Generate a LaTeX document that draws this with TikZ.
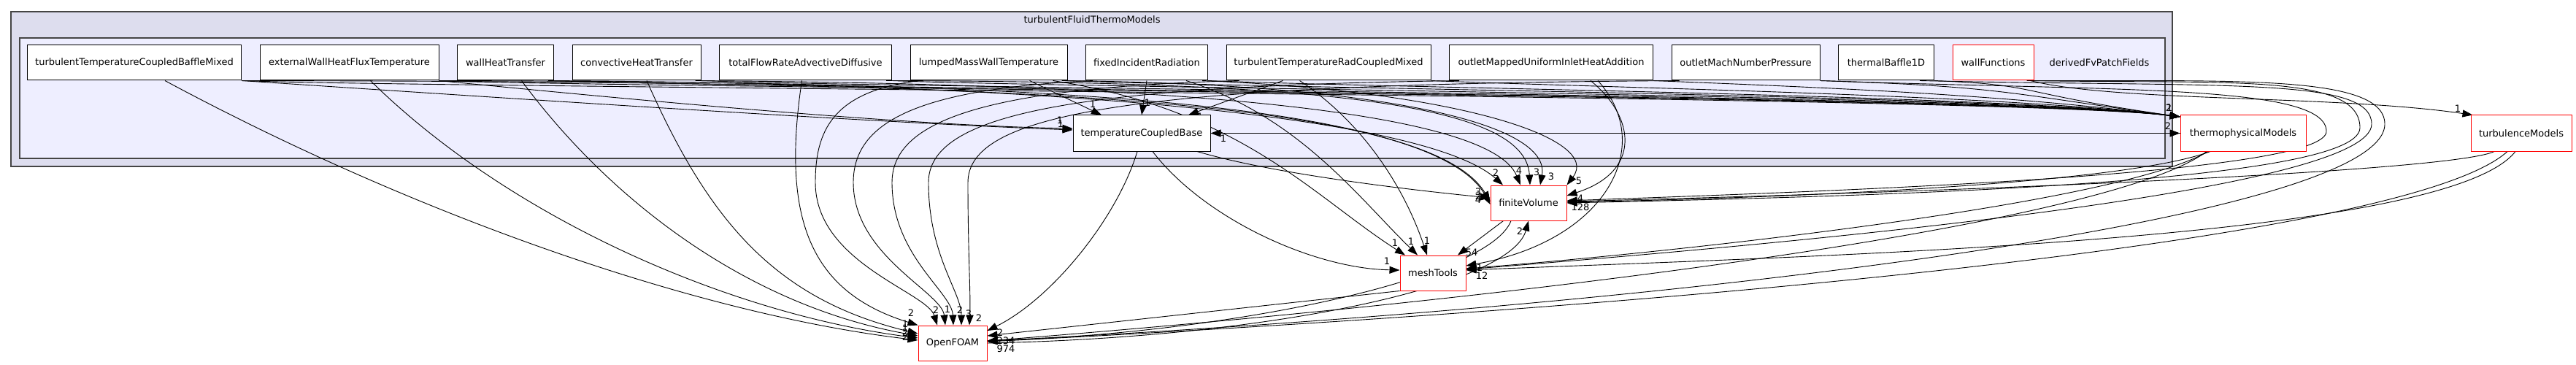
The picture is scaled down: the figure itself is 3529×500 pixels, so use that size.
\documentclass[tikz,border=0pt]{standalone}
\usepackage{fontspec}
\setmainfont{DejaVu Sans}
\usepackage{tikz}
\usetikzlibrary{arrows.meta, positioning}
\pgfdeclarelayer{bg}
\pgfdeclarelayer{wires}
\pgfsetlayers{bg,wires,main}

\definecolor{outerfill}{HTML}{DDDDEE}
\definecolor{innerfill}{HTML}{EEEEFF}
\definecolor{clusterline}{HTML}{444444}

\tikzset{
  dirbox/.style={draw=black, fill=white, line width=1pt, minimum height=48pt, inner sep=0pt, font=\fontsize{13}{15}\selectfont},
  reddir/.style={dirbox, draw=red},
  dep/.style={-{Triangle[length=14pt,width=10pt]}, line width=0.9pt},
  lbl/.style={font=\fontsize{13}{15}\selectfont, inner sep=0pt},
  cluster/.style={draw=clusterline, line width=2pt}
}

\begin{document}
\begin{tikzpicture}[x=1pt, y=-1pt, node distance=24.5pt]
\useasboundingbox (0,0) rectangle (3529,500);

\begin{pgfonlayer}{bg}
\draw[cluster, fill=outerfill] (15,16) rectangle (2976,228);
\draw[cluster, fill=innerfill] (27,52) rectangle (2966,217);
\end{pgfonlayer}
\node[lbl] (outerlbl) at (1496,27) {turbulentFluidThermoModels};
\node[lbl] (innerlbl) at (2876,86) {derivedFvPatchFields};

% directories in derivedFvPatchFields
\node[dirbox, minimum width=293pt, anchor=west] (tTCBM) at (37,86) {turbulentTemperatureCoupledBaffleMixed};
\node[dirbox, minimum width=245pt] (eWHFT) [right=of tTCBM] {externalWallHeatFluxTemperature};
\node[dirbox, minimum width=132pt] (wHT) [right=of eWHFT] {wallHeatTransfer};
\node[dirbox, minimum width=176pt] (cHT) [right=of wHT] {convectiveHeatTransfer};
\node[dirbox, minimum width=236pt] (tFRAD) [right=of cHT] {totalFlowRateAdvectiveDiffusive};
\node[dirbox, minimum width=215pt] (lMWT) [right=of tFRAD] {lumpedMassWallTemperature};
\node[dirbox, minimum width=167pt] (fIR) [right=of lMWT] {fixedIncidentRadiation};
\node[dirbox, minimum width=280pt] (tTRCM) [right=of fIR] {turbulentTemperatureRadCoupledMixed};
\node[dirbox, minimum width=279pt] (oMUIHA) [right=of tTRCM] {outletMappedUniformInletHeatAddition};
\node[dirbox, minimum width=203pt] (oMNP) [right=of oMUIHA] {outletMachNumberPressure};
\node[dirbox, minimum width=131pt] (tB1D) [right=of oMNP] {thermalBaffle1D};
\node[reddir, minimum width=111pt] (wallF) [right=of tB1D] {wallFunctions};
\node[dirbox, minimum width=188pt, minimum height=49pt] (tCB) at (1564,182.5) {temperatureCoupledBase};

% other directories
\node[reddir, minimum width=172pt, minimum height=49pt] (thermo) at (3073,182.5) {thermophysicalModels};
\node[reddir, minimum width=138pt, minimum height=49pt] (turb) at (3454,182.5) {turbulenceModels};
\node[reddir, minimum width=104pt] (fV) at (2094,278) {finiteVolume};
\node[reddir, minimum width=90pt] (mT) at (1963,374) {meshTools};
\node[reddir, minimum width=94pt] (OF) at (1305,470) {OpenFOAM};

\begin{pgfonlayer}{wires}
% to temperatureCoupledBase
\draw[dep] (tTCBM.south east) .. controls (700,135) and (1200,168) .. ([yshift=4.5pt]tCB.west) node[lbl] at (1453,170) {1};
\draw[dep] (eWHFT.south east) .. controls (900,140) and (1250,172) .. ([yshift=6.5pt]tCB.west) node[lbl] at (1452,165) {1};
\draw[dep] ([xshift=164pt]lMWT.south west) -- ([xshift=-55pt]tCB.north) node[lbl] at (1497,143) {1};
\draw[dep] (fIR.south) -- (tCB.north) node[lbl] at (1572,141) {1};
\draw[dep] ([xshift=78pt]tTRCM.south west) -- ([xshift=64pt]tCB.north) node[lbl] at (1644,160) {1};
\draw[dep] (thermo.west) -- (tCB.east) node[lbl] at (1676,190) {1};

% from temperatureCoupledBase
\draw[dep] (tCB.east) -- (thermo.west) node[lbl] at (2970,173) {2};
\draw[dep] ([xshift=-6pt]tCB.south) .. controls (1530,300) and (1440,410) .. ([yshift=17pt]OF.east) node[lbl] at (1370,456) {2};
\draw[dep] ([xshift=15pt]tCB.south) .. controls (1650,300) and (1800,368) .. ([yshift=4pt]mT.west) node[lbl] at (1900,358) {1};
\draw[dep] ([xshift=76pt]tCB.south) .. controls (1750,240) and (1950,262) .. ([yshift=7pt]fV.west) node[lbl] at (2025,263) {3};

% to OpenFOAM
\draw[dep] ([xshift=42pt]tTCBM.south) .. controls (560,290) and (950,430) .. ([yshift=4pt]OF.west) node[lbl] at (1240,462) {2};
\draw[dep] ([xshift=29pt]eWHFT.south) .. controls (700,300) and (1000,430) .. ([yshift=7pt]OF.west) node[lbl] at (1240,456) {2};
\draw[dep] ([xshift=22pt]wHT.south) .. controls (840,280) and (1030,420) .. ([yshift=10pt]OF.west) node[lbl] at (1240,450) {1};
\draw[dep] ([xshift=14pt]cHT.south) .. controls (970,300) and (1060,410) .. ([yshift=13pt]OF.west) node[lbl] at (1240,444) {1};
\draw[dep] ([xshift=-5pt]tFRAD.south) .. controls (1070,300) and (1110,400) .. (OF.north west) node[lbl] at (1248,429) {2};
\draw[dep] ([xshift=13pt]lMWT.south west) .. controls (1140,125) and (1117,180) .. (1117,250) .. controls (1117,360) and (1270,400) .. ([xshift=-21pt]OF.north) node[lbl] at (1282,425) {2};
\draw[dep] ([xshift=10pt]fIR.south west) .. controls (1250,122) and (1169,170) .. (1169,250) .. controls (1169,350) and (1290,400) .. ([xshift=-10pt]OF.north) node[lbl] at (1298,424) {1};
\draw[dep] ([xshift=18pt]tTRCM.south west) .. controls (1350,120) and (1222,165) .. (1222,250) .. controls (1222,350) and (1304,400) .. ([xshift=1pt]OF.north) node[lbl] at (1315,425) {2};
\draw[dep] ([xshift=14pt]oMUIHA.south west) .. controls (1450,118) and (1272,160) .. (1272,250) .. controls (1272,350) and (1317,400) .. ([xshift=12pt]OF.north) node[lbl] at (1327,430) {3};
\draw[dep] ([xshift=11pt]oMNP.south west) .. controls (1550,115) and (1326,155) .. (1326,250) .. controls (1326,350) and (1330,400) .. ([xshift=23pt]OF.north) node[lbl] at (1341,436) {2};
\draw[dep] (mT.south west) -- ([yshift=10pt]OF.east) node[lbl] at (1378,467) {234};
\draw[dep] ([xshift=-24pt]fV.south) .. controls (2040,380) and (1700,455) .. ([yshift=3pt]OF.east) node[lbl] at (1378,478) {974};
\draw[dep] ([xshift=-50pt]thermo.south) .. controls (2900,300) and (2200,400) .. ([yshift=3pt]OF.east);
\draw[dep] ([xshift=-19pt]turb.south) .. controls (3300,330) and (2300,420) .. ([yshift=2pt]OF.east);
\draw[dep] ([xshift=-10pt]wallF.south east) .. controls (3050,112) and (3267,100) .. (3267,170) .. controls (3267,300) and (2300,420) .. ([yshift=3pt]OF.east);

% to finiteVolume
\draw[dep] (OF.east) .. controls (1750,462) and (2070,390) .. (fV.south) node[lbl] at (2082,317) {2};
\draw[dep] (tTCBM.south east) .. controls (1300,112) and (1950,125) .. ([yshift=2pt]fV.west) node[lbl] at (2025,269) {2};
\draw[dep] (eWHFT.south east) .. controls (1350,112) and (1960,130) .. ([yshift=-2pt]fV.west) node[lbl] at (2025,274) {4};
\draw[dep] ([xshift=-8pt]wHT.south east) .. controls (1500,115) and (1960,165) .. ([xshift=-35pt]fV.north) node[lbl] at (2049,237) {2};
\draw[dep] ([xshift=-8pt]cHT.south east) .. controls (1600,115) and (2040,150) .. ([xshift=-11pt]fV.north) node[lbl] at (2081,234) {4};
\draw[dep] ([xshift=-8pt]tFRAD.south east) .. controls (1800,112) and (2090,140) .. ([xshift=2pt]fV.north) node[lbl] at (2105,236) {3};
\draw[dep] ([xshift=-8pt]lMWT.south east) .. controls (1900,115) and (2125,170) .. ([xshift=16pt]fV.north) node[lbl] at (2125,242) {3};
\draw[dep] ([xshift=-8pt]fIR.south east) .. controls (2000,125) and (2195,190) .. (fV.north east) node[lbl] at (2163,248) {5};
\draw[dep] ([xshift=54pt]oMUIHA.south) .. controls (2240,160) and (2250,235) .. ([yshift=10pt]fV.east) node[lbl] at (2165,272) {4};
\draw[dep] ([xshift=-45pt]thermo.south) .. controls (2900,255) and (2400,272) .. ([yshift=1pt]fV.east) node[lbl] at (2165,284) {128};
\draw[dep] ([xshift=-37pt]turb.south) .. controls (3360,235) and (2700,262) .. ([yshift=2pt]fV.east);
\draw[dep] (oMNP.south east) .. controls (2900,125) and (3187,115) .. (3187,180) .. controls (3187,240) and (2500,262) .. ([yshift=3pt]fV.east);
\draw[dep] ([xshift=-5pt]wallF.south east) .. controls (3050,115) and (3233,100) .. (3233,175) .. controls (3233,255) and (2500,270) .. (fV.east);

% to meshTools
\draw[dep] ([xshift=-20pt]lMWT.south east) .. controls (1700,150) and (1800,270) .. ([xshift=-38pt]mT.north) node[lbl] at (1911,333) {1};
\draw[dep] ([xshift=-30pt]fIR.south east) .. controls (1780,160) and (1860,270) .. ([xshift=-21pt]mT.north) node[lbl] at (1933,331) {1};
\draw[dep] ([xshift=101pt]tTRCM.south west) .. controls (1870,170) and (1925,260) .. ([xshift=-8pt]mT.north) node[lbl] at (1955,330) {1};
\draw[dep] ([xshift=18pt]fV.south west) -- ([xshift=34pt]mT.north) node[lbl] at (2016,346) {54};
\draw[dep] ([xshift=64pt]oMUIHA.south) .. controls (2270,200) and (2200,330) .. ([yshift=10pt]mT.east) node[lbl] at (2027,367) {1};
\draw[dep] ([xshift=-48pt]thermo.south) .. controls (2900,280) and (2300,345) .. ([yshift=6pt]mT.east) node[lbl] at (2030,378) {12};
\draw[dep] ([xshift=-8pt]turb.south) .. controls (3350,330) and (2500,350) .. ([yshift=4pt]mT.east);
\draw[dep] ([xshift=-20pt]tB1D.south east) .. controls (3050,120) and (3249,105) .. (3249,170) .. controls (3249,260) and (2500,330) .. ([yshift=5pt]mT.east);

% to thermophysicalModels and turbulenceModels
\foreach \src in {tTCBM, eWHFT, wHT, cHT, tFRAD, lMWT, fIR, tTRCM, oMUIHA}
  \draw[dep] (\src.south east) .. controls +(250,10) and (2750,130) .. ([yshift=22.5pt]thermo.west);
\draw[dep] (oMNP.south east) .. controls +(250,8) and (2750,128) .. ([yshift=22.5pt]thermo.west) node[lbl] at (2971,148) {2};
\draw[dep] (tB1D.south east) .. controls +(150,6) and (2750,126) .. ([yshift=22.5pt]thermo.west) node[lbl] at (2972,148) {1};
\draw[dep] ([xshift=-5pt]wallF.south east) .. controls (2900,140) and (3200,130) .. ([xshift=3pt]turb.north west) node[lbl] at (3367,149) {1};
\end{pgfonlayer}
\end{tikzpicture}
\end{document}
